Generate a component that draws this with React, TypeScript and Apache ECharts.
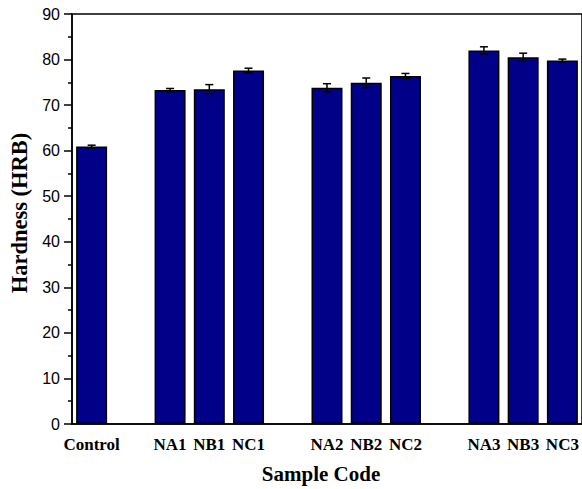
import React, { useEffect, useRef } from "react";
import * as echarts from "echarts";

const categories = ["Control", "", "NA1", "NB1", "NC1", " ", "NA2", "NB2", "NC2", "  ", "NA3", "NB3", "NC3"];
const hardness: (number | null)[] = [60.9, null, 73.3, 73.5, 77.6, null, 73.8, 74.9, 76.4, null, 82.0, 80.5, 79.8];
const errors: (number | null)[] = [0.3, null, 0.35, 1.0, 0.5, null, 0.9, 1.05, 0.55, null, 0.8, 0.9, 0.3];
const yTicks = { min: 0, max: 90, interval: 10 };

export default function App() {
  const ref = useRef<HTMLDivElement>(null);
  useEffect(() => {
    document.body.style.margin = "0";
    const chart = echarts.init(ref.current!, null, { renderer: "svg" });
    const errData = hardness
      .map((v, i) => (v == null || errors[i] == null ? null : [i, v - (errors[i] as number), v + (errors[i] as number)]))
      .filter((d) => d != null);
    const serif = "Liberation Serif";
    chart.setOption({
      animation: false,
      grid: {
        left: 70,
        right: 0,
        top: 14,
        bottom: 62,
        show: true,
        borderColor: "#000",
        borderWidth: 1.5,
        backgroundColor: "transparent",
      },
      xAxis: [
        {
          type: "category",
          data: categories,
          position: "bottom",
          axisLine: { lineStyle: { color: "#000", width: 1.5 } },
          axisTick: { alignWithLabel: true, length: 7, interval: 0, lineStyle: { color: "#000", width: 1.5 } },
          axisLabel: {
            interval: 0,
            margin: 12,
            color: "#000",
            fontFamily: serif,
            fontWeight: "bold",
            fontSize: 17,
          },
          name: "Sample Code",
          nameLocation: "middle",
          nameGap: 39,
          nameTextStyle: { color: "#000", fontFamily: serif, fontWeight: "bold", fontSize: 21, padding: [0, 12, 0, 0] },
        },
        {
          type: "category",
          data: categories,
          position: "bottom",
          axisLine: { show: false },
          axisTick: { alignWithLabel: false, length: 4, interval: 0, lineStyle: { color: "#000", width: 1.5 } },
          axisLabel: { show: false },
        },
      ],
      yAxis: {
        type: "value",
        min: yTicks.min,
        max: yTicks.max,
        interval: yTicks.interval,
        splitLine: { show: false },
        axisLine: { show: true, lineStyle: { color: "#000", width: 1.5 } },
        axisTick: { show: true, length: 8, lineStyle: { color: "#000", width: 1.5 } },
        minorTick: { show: true, splitNumber: 2, length: 4, lineStyle: { color: "#000", width: 1.5 } },
        axisLabel: { color: "#000", fontFamily: "Liberation Sans", fontSize: 16, margin: 12 },
        name: "Hardness (HRB)",
        nameLocation: "middle",
        nameGap: 41,
        nameTextStyle: { color: "#000", fontFamily: serif, fontWeight: "bold", fontSize: 22.5, padding: [0, 0, 0, 12] },
      },
      series: [
        {
          type: "bar",
          data: hardness,
          barWidth: "79%",
          itemStyle: { color: "#000088", borderColor: "#000", borderWidth: 1.5 },
        },
        {
          type: "custom",
          data: errData,
          z: 10,
          renderItem: (params: any, api: any) => {
            const x = api.value(0);
            const lo = api.coord([x, api.value(1)]);
            const hi = api.coord([x, api.value(2)]);
            const w = 4;
            const style = { stroke: "#000", lineWidth: 1.5 };
            return {
              type: "group",
              children: [
                { type: "line", shape: { x1: lo[0], y1: lo[1], x2: hi[0], y2: hi[1] }, style },
                { type: "line", shape: { x1: lo[0] - w, y1: lo[1], x2: lo[0] + w, y2: lo[1] }, style },
                { type: "line", shape: { x1: hi[0] - w, y1: hi[1], x2: hi[0] + w, y2: hi[1] }, style },
              ],
            };
          },
        },
      ],
    });
    return () => chart.dispose();
  }, []);
  return <div ref={ref} style={{ width: 582, height: 489 }} />;
}
